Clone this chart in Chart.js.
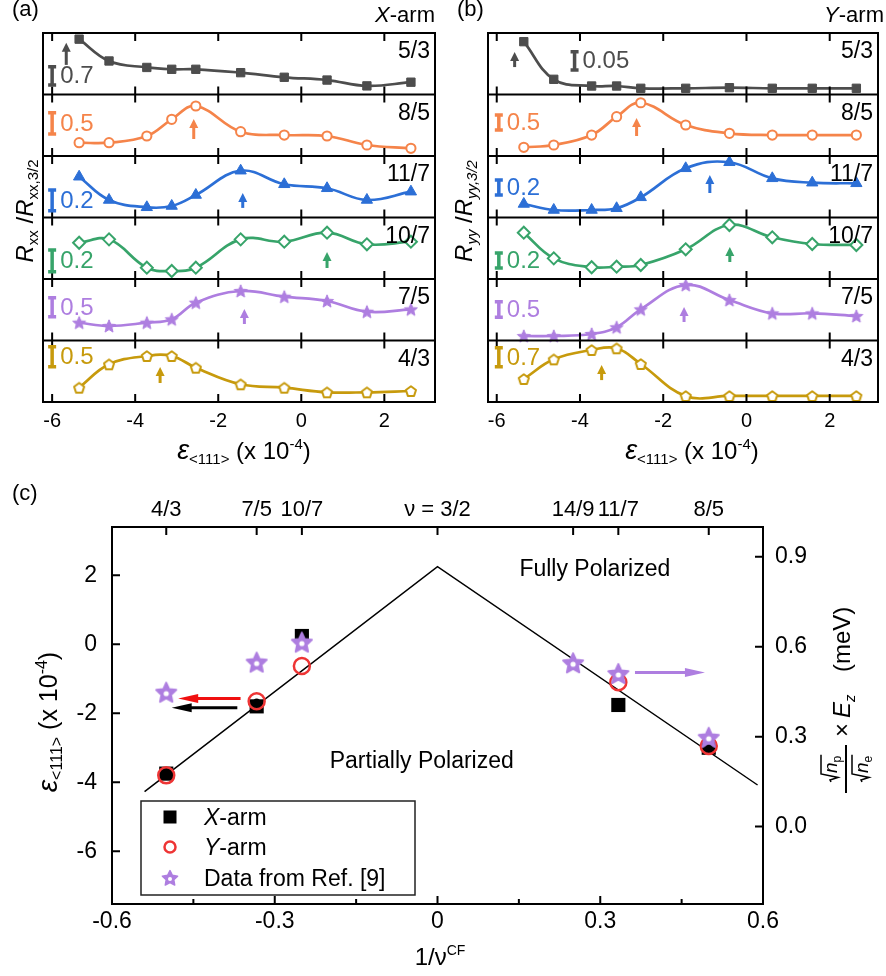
<!DOCTYPE html>
<html>
<head>
<meta charset="utf-8">
<title>strain vs filling</title>
<script src="https://cdn.jsdelivr.net/npm/chart.js@4.4.1/dist/chart.umd.min.js"></script>
<style>
  html, body { margin: 0; padding: 0; background: #fff; }
  #page { position: relative; width: 886px; height: 976px; overflow: hidden; }
  canvas { position: absolute; }
</style>
</head>
<body>
<div id="page">
  <canvas id="panelA" width="443" height="476" style="left:0;top:0"></canvas>
  <canvas id="panelB" width="443" height="476" style="left:443px;top:0"></canvas>
  <canvas id="panelC" width="886" height="500" style="left:0;top:476px"></canvas>
</div>
<script>
var FONT = "'Liberation Sans', Arial, Helvetica, sans-serif";
function font(size, style) { return (style || '') + ' ' + size + 'px ' + FONT; }

// ---- (a) / (b): six strips, one per filling factor
var fillings = ['5/3', '8/5', '11/7', '10/7', '7/5', '4/3'];
var strain = [-5.35, -4.63, -3.72, -3.12, -2.54, -1.46, -0.41, 0.62, 1.58, 2.64];
var strainTicks = [-6, -4, -2, 0, 2];

// X-arm, R_xx / R_xx,3/2 in units of one strip height
var xArm53 = [0.90, 0.545, 0.44, 0.41, 0.41, 0.355, 0.28, 0.235, 0.14, 0.20];
var xArm85 = [0.216, 0.216, 0.325, 0.597, 0.813, 0.395, 0.341, 0.325, 0.179, 0.125];
var xArm117 = [0.663, 0.285, 0.166, 0.187, 0.366, 0.761, 0.54, 0.475, 0.285, 0.42];
var xArm107 = [0.59, 0.645, 0.184, 0.13, 0.184, 0.645, 0.607, 0.753, 0.564, 0.607];
var xArm75 = [0.29, 0.236, 0.29, 0.345, 0.615, 0.805, 0.712, 0.642, 0.468, 0.507];
var xArm43 = [0.233, 0.613, 0.748, 0.748, 0.558, 0.288, 0.233, 0.158, 0.158, 0.179];

// Y-arm, R_yy / R_yy,3/2
var yArm53 = [0.859, 0.247, 0.138, 0.138, 0.101, 0.101, 0.111, 0.101, 0.101, 0.101];
var yArm85 = [0.141, 0.179, 0.341, 0.639, 0.866, 0.504, 0.369, 0.341, 0.341, 0.341];
var yArm117 = [0.22, 0.122, 0.122, 0.15, 0.328, 0.8, 0.898, 0.637, 0.566, 0.556];
var yArm107 = [0.753, 0.336, 0.191, 0.2, 0.228, 0.483, 0.878, 0.678, 0.569, 0.553];
var yArm75 = [0.073, 0.073, 0.106, 0.215, 0.507, 0.902, 0.658, 0.442, 0.442, 0.398];
var yArm43 = [0.374, 0.694, 0.846, 0.873, 0.618, 0.098, 0.098, 0.098, 0.098, 0.098];

// peak strain (little arrows) and scale bar values
var xArmPeak = [-5.66, -2.59, -1.41, 0.62, -1.37, -3.4];
var yArmPeak = [-5.57, -2.64, -0.88, -0.4, -1.5, -3.48];
var xArmBar = ['0.7', '0.5', '0.2', '0.2', '0.5', '0.5'];
var yArmBar = ['0.05', '0.5', '0.2', '0.2', '0.5', '0.7'];

var colors = ['#4d4d4d', '#f5844a', '#2c6fd6', '#37a46a', '#ae7ee0', '#c79a0c'];

// ---- (c): peak strain vs 1/nu^CF
var nuTop = [-0.5, -1 / 3, -0.25, 0, 0.25, 1 / 3, 0.5];
var nuTopLabels = ['4/3', '7/5', '10/7', 'ν = 3/2', '14/9', '11/7', '8/5'];
var xArmNu = [-0.5, -1 / 3, -0.25, 1 / 3, 0.5];
var xArmEps = [-3.75, -1.8, 0.24, -1.76, -3.0];
var yArmNu = [-0.5, -1 / 3, -0.25, 1 / 3, 0.5];
var yArmEps = [-3.8, -1.65, -0.63, -1.1, -2.95];
var refNu = [-0.5, -1 / 3, -0.25, 0.25, 1 / 3, 0.5];
var refEps = [-1.4, -0.53, 0.05, -0.55, -0.86, -2.71];
var dotNu = [-0.5, -1 / 3, 0.5];
var dotEps = [-3.78, -1.67, -3.02];
var boundaryNu = [-0.54, 0, 0.59];
var boundaryEps = [-4.27, 2.25, -4.08];
var nuTicks = [-0.6, -0.3, 0, 0.3, 0.6];
var nuMinor = [-0.45, -0.15, 0.15, 0.45];
var epsTicks = [2, 0, -2, -4, -6];
var ezTicks = [0, 0.3, 0.6, 0.9];

var red = '#ee3535', purple = '#ae7ee0';

function polyMarker(n, size, rOut, rIn, fill, stroke, lw, dot) {
  var c = document.createElement('canvas');
  c.width = c.height = size;
  var g = c.getContext('2d');
  var pts = rIn ? 2 * n : n;
  g.beginPath();
  for (var i = 0; i < pts; i++) {
    var ang = -Math.PI / 2 + i * 2 * Math.PI / pts;
    var r = rIn && i % 2 ? rIn : rOut;
    g.lineTo(size / 2 + r * Math.cos(ang), size / 2 + 0.6 + r * Math.sin(ang));
  }
  g.closePath();
  g.fillStyle = fill; g.fill();
  if (lw) { g.lineJoin = 'round'; g.lineWidth = lw; g.strokeStyle = stroke; g.stroke(); }
  if (dot) {
    g.fillStyle = '#fff';
    g.beginPath(); g.arc(size / 2, size / 2 + 1, dot, 0, 2 * Math.PI); g.fill();
  }
  return c;
}
var starA = polyMarker(5, 16, 6.8, 3, purple, purple, 1);
var pentA = polyMarker(5, 16, 5.3, 0, '#fff', colors[5], 2);
var starC = polyMarker(5, 26, 10.5, 5, purple, purple, 2, 2.6);
var starLeg = polyMarker(5, 20, 8, 4, purple, purple, 1.5, 2);

var markerStyle = [
  { style: 'rect', r: 5.9, open: false },
  { style: 'circle', r: 4.6, open: true },
  { style: 'triangle', r: 6.5, open: false },
  { style: 'rectRot', r: 6, open: true },
  { style: starA, r: 6, open: false },
  { style: pentA, r: 6, open: true }
];

function richText(ctx, runs, x, y, angle, align) {
  ctx.save();
  ctx.translate(x, y);
  if (angle) ctx.rotate(angle);
  var w = 0;
  runs.forEach(function (r) { ctx.font = r[1]; w += ctx.measureText(r[0]).width; });
  var cx = align === 'left' ? 0 : align === 'right' ? -w : -w / 2;
  ctx.textAlign = 'left'; ctx.textBaseline = 'alphabetic'; ctx.fillStyle = '#000';
  runs.forEach(function (r) {
    ctx.font = r[1];
    ctx.fillText(r[0], cx, r[2] || 0);
    cx += ctx.measureText(r[0]).width;
  });
  ctx.restore();
}

function epsRuns(big, main, sub) {
  return [['ε', font(big, 'italic')], ['<111>', font(sub), 5], [' (x 10', font(main)], ['-4', font(sub), -10], [')', font(main)]];
}

function upArrow(ctx, x, yBase, yTip, col) {
  var base = Math.max(yBase + 3, yTip + 15);
  ctx.strokeStyle = col; ctx.fillStyle = col; ctx.lineWidth = 3;
  ctx.beginPath(); ctx.moveTo(x, base); ctx.lineTo(x, yTip + 7); ctx.stroke();
  ctx.beginPath(); ctx.moveTo(x, yTip); ctx.lineTo(x - 4.5, yTip + 9); ctx.lineTo(x + 4.5, yTip + 9); ctx.closePath(); ctx.fill();
}

function hArrow(ctx, x1, x2, y, col) {
  var dir = x2 > x1 ? 1 : -1;
  ctx.strokeStyle = col; ctx.fillStyle = col; ctx.lineWidth = 3;
  ctx.beginPath(); ctx.moveTo(x1, y); ctx.lineTo(x2 - dir * 16, y); ctx.stroke();
  ctx.beginPath(); ctx.moveTo(x2, y); ctx.lineTo(x2 - dir * 20, y - 4.5); ctx.lineTo(x2 - dir * 20, y + 4.5); ctx.closePath(); ctx.fill();
}

function stripSets(series) {
  return series.map(function (vals, i) {
    var off = series.length - 1 - i;
    var m = markerStyle[i];
    return {
      label: fillings[i],
      data: strain.map(function (x, j) { return { x: x, y: off + vals[j] }; }),
      borderColor: colors[i], borderWidth: 2.7, tension: 0.4, fill: false,
      pointStyle: m.style, pointRadius: m.r, pointBorderWidth: m.open ? 2 : 1,
      pointBorderColor: colors[i], pointBackgroundColor: m.open ? '#fff' : colors[i]
    };
  });
}

function stripDeco(o) {
  return {
    id: 'stripDeco',
    afterDraw: function (chart) {
      var ctx = chart.ctx, a = chart.chartArea, sx = chart.scales.x, sy = chart.scales.y;
      var n = fillings.length;
      ctx.save();
      ctx.strokeStyle = '#000'; ctx.lineWidth = 2;
      ctx.beginPath();
      for (var k = 0; k <= n; k++) {
        var py = sy.getPixelForValue(k);
        if (k > 0 && k < n) { ctx.moveTo(a.left, py); ctx.lineTo(a.right, py); }
        strainTicks.forEach(function (t) {
          var px = sx.getPixelForValue(t);
          if (k < n) { ctx.moveTo(px, py); ctx.lineTo(px, py - 8); }
          if (k > 0) { ctx.moveTo(px, py); ctx.lineTo(px, py + 8); }
        });
      }
      ctx.stroke();
      ctx.strokeRect(a.left, a.top, a.right - a.left, a.bottom - a.top);

      for (var i = 0; i < n; i++) {
        var off = n - 1 - i, col = colors[i];
        ctx.fillStyle = '#000'; ctx.font = font(23); ctx.textAlign = 'right'; ctx.textBaseline = 'alphabetic';
        ctx.fillText(fillings[i], a.right - 5, sy.getPixelForValue(off + 1) + 25);

        var b = o.bars[i];
        var bx = sx.getPixelForValue(b[0]), y1 = sy.getPixelForValue(off + b[1]), y2 = sy.getPixelForValue(off + b[2]);
        ctx.strokeStyle = col; ctx.lineWidth = 3.5;
        ctx.beginPath();
        ctx.moveTo(bx, y1); ctx.lineTo(bx, y2);
        ctx.moveTo(bx - 4, y1); ctx.lineTo(bx + 4, y1);
        ctx.moveTo(bx - 4, y2); ctx.lineTo(bx + 4, y2);
        ctx.stroke();
        ctx.fillStyle = col; ctx.font = font(24); ctx.textAlign = 'left'; ctx.textBaseline = 'middle';
        ctx.fillText(o.barText[i], bx + 8, (y1 + y2) / 2 + 1);

        upArrow(ctx, sx.getPixelForValue(o.peak[i]), sy.getPixelForValue(off + o.arrow[i][0]),
          sy.getPixelForValue(off + o.arrow[i][1]), col);
      }
      o.titles(ctx, a);
      ctx.restore();
    }
  };
}

function stripChart(id, series, range, pad, deco) {
  return new Chart(document.getElementById(id), {
    type: 'line',
    data: { datasets: stripSets(series) },
    options: {
      responsive: false, animation: false, events: [],
      layout: { padding: pad },
      plugins: { legend: { display: false }, tooltip: { enabled: false } },
      scales: {
        x: {
          type: 'linear', min: range[0], max: range[1],
          afterBuildTicks: function (s) { s.ticks = strainTicks.map(function (v) { return { value: v }; }); },
          afterFit: function (s) { s.height = 74; },
          grid: { display: false, drawTicks: false }, border: { display: false },
          ticks: { font: { family: FONT, size: 20 }, color: '#000', padding: 7, maxRotation: 0, autoSkip: false,
            callback: function (v) { return String(v); } }
        },
        y: { min: 0, max: 6, display: false }
      }
    },
    plugins: [deco]
  });
}

stripChart('panelA', [xArm53, xArm85, xArm117, xArm107, xArm75, xArm43], [-6.22, 3.22],
  { left: 43, top: 33, right: 6, bottom: 0 },
  stripDeco({
    peak: xArmPeak, barText: xArmBar,
    arrow: [[0.53, 0.84], [0.325, 0.60], [0.236, 0.40], [0.228, 0.44], [0.35, 0.512], [0.358, 0.569]],
    bars: [[-6, 0.154, 0.452], [-6, 0.358, 0.704], [-6, 0.11, 0.447], [-6, 0.119, 0.472], [-6, 0.387, 0.696], [-6, 0.574, 0.899]],
    titles: function (ctx, a) {
      ctx.fillStyle = '#000'; ctx.textAlign = 'left'; ctx.textBaseline = 'alphabetic'; ctx.font = font(22);
      ctx.fillText('(a)', 12, 16);
      richText(ctx, [['X', font(22, 'italic')], ['-arm', font(22)]], 435, 22, 0, 'right');
      richText(ctx, [['R', font(24, 'italic')], ['xx', font(15), 5], [' /', font(24)], ['R', font(24, 'italic')], ['xx,3/2', font(15), 5]],
        33, 211, -Math.PI / 2, 'center');
      richText(ctx, epsRuns(27, 24, 15), 244, 459, 0, 'center');
    }
  }));

stripChart('panelB', [yArm53, yArm85, yArm117, yArm107, yArm75, yArm43], [-6.21, 3.16],
  { left: 45, top: 33, right: 3, bottom: 0 },
  stripDeco({
    peak: yArmPeak, barText: yArmBar,
    arrow: [[0.51, 0.69], [0.374, 0.618], [0.447, 0.69], [0.34, 0.52], [0.38, 0.545], [0.44, 0.60]],
    bars: [[-4.13, 0.398, 0.696], [-5.95, 0.423, 0.667], [-5.95, 0.366, 0.61], [-5.95, 0.179, 0.423], [-5.95, 0.377, 0.631], [-5.95, 0.574, 0.883]],
    titles: function (ctx, a) {
      ctx.fillStyle = '#000'; ctx.textAlign = 'left'; ctx.textBaseline = 'alphabetic'; ctx.font = font(22);
      ctx.fillText('(b)', 14, 16);
      richText(ctx, [['Y', font(22, 'italic')], ['-arm', font(22)]], 441, 22, 0, 'right');
      richText(ctx, [['R', font(24, 'italic')], ['yy', font(15, 'italic'), 5], [' /', font(24)], ['R', font(24, 'italic')], ['yy,3/2', font(15, 'italic'), 5]],
        29, 211, -Math.PI / 2, 'center');
      richText(ctx, epsRuns(27, 24, 15), 249, 459, 0, 'center');
    }
  }));

// ---- (c)
function pts(xs, ys) { return xs.map(function (x, i) { return { x: x, y: ys[i] }; }); }
function fixedTicks(list) { return function (s) { s.ticks = list.map(function (v) { return { value: v }; }); }; }
var tickFont = { family: FONT, size: 23 };

function radicand(ctx, u, vBase, letter, sub) {
  ctx.font = font(19, 'italic');
  var wl = ctx.measureText(letter).width;
  ctx.font = font(12);
  var ws = ctx.measureText(sub).width;
  var top = vBase - 16;
  ctx.lineWidth = 1.5; ctx.strokeStyle = '#000';
  ctx.beginPath();
  ctx.moveTo(u, vBase - 6); ctx.lineTo(u + 2, vBase - 7); ctx.lineTo(u + 4.5, vBase + 1);
  ctx.lineTo(u + 8, top); ctx.lineTo(u + 10 + wl + ws, top);
  ctx.stroke();
  ctx.fillStyle = '#000'; ctx.textAlign = 'left'; ctx.textBaseline = 'alphabetic';
  ctx.font = font(19, 'italic'); ctx.fillText(letter, u + 9, vBase);
  ctx.font = font(12); ctx.fillText(sub, u + 9 + wl, vBase + 4);
}

var decoC = {
  id: 'decoC',
  afterDraw: function (chart) {
    var ctx = chart.ctx, a = chart.chartArea, sx = chart.scales.x, sy = chart.scales.y, sr = chart.scales.yR;
    ctx.save();
    ctx.strokeStyle = '#000'; ctx.lineWidth = 2;
    ctx.strokeRect(a.left, a.top, a.right - a.left, a.bottom - a.top);
    ctx.beginPath();
    nuTop.forEach(function (v) { var p = sx.getPixelForValue(v); ctx.moveTo(p, a.top); ctx.lineTo(p, a.top + 8); });
    nuTicks.forEach(function (v) { var p = sx.getPixelForValue(v); ctx.moveTo(p, a.bottom); ctx.lineTo(p, a.bottom - 8); });
    nuMinor.forEach(function (v) { var p = sx.getPixelForValue(v); ctx.moveTo(p, a.bottom); ctx.lineTo(p, a.bottom - 5); });
    epsTicks.forEach(function (v) { var p = sy.getPixelForValue(v); ctx.moveTo(a.left, p); ctx.lineTo(a.left + 8, p); });
    ezTicks.forEach(function (v) { var p = sr.getPixelForValue(v); ctx.moveTo(a.right, p); ctx.lineTo(a.right - 8, p); });
    ctx.stroke();

    // region labels
    ctx.fillStyle = '#000'; ctx.font = font(23); ctx.textAlign = 'center'; ctx.textBaseline = 'middle';
    ctx.fillText('Fully Polarized', sx.getPixelForValue(0.29), sy.getPixelForValue(2.15));
    ctx.fillText('Partially Polarized', sx.getPixelForValue(-0.029), sy.getPixelForValue(-3.4));

    // axis arrows
    hArrow(ctx, sx.getPixelForValue(-0.363), sx.getPixelForValue(-0.478), sy.getPixelForValue(-1.57), '#f01010');
    hArrow(ctx, sx.getPixelForValue(-0.369), sx.getPixelForValue(-0.49), sy.getPixelForValue(-1.84), '#000');
    hArrow(ctx, sx.getPixelForValue(0.364), sx.getPixelForValue(0.493), sy.getPixelForValue(-0.82), purple);

    // legend
    var lx = 141, ly = 325;
    ctx.fillStyle = '#fff'; ctx.fillRect(lx, ly, 274, 94);
    ctx.strokeStyle = '#222'; ctx.lineWidth = 1.5; ctx.strokeRect(lx, ly, 274, 94);
    ctx.fillStyle = '#000'; ctx.fillRect(170 - 6.5, 341 - 6.5, 13, 13);
    ctx.strokeStyle = red; ctx.lineWidth = 2.5;
    ctx.beginPath(); ctx.arc(170, 371, 5.5, 0, 2 * Math.PI); ctx.stroke();
    ctx.drawImage(starLeg, 170 - 10, 402 - 10);
    richText(ctx, [['X', font(23, 'italic')], ['-arm', font(23)]], 204, 349, 0, 'left');
    richText(ctx, [['Y', font(23, 'italic')], ['-arm', font(23)]], 204, 379, 0, 'left');
    richText(ctx, [['Data from Ref. [9]', font(23)]], 204, 410, 0, 'left');

    // titles
    ctx.fillStyle = '#000'; ctx.textAlign = 'left'; ctx.textBaseline = 'alphabetic'; ctx.font = font(22);
    ctx.fillText('(c)', 12, 24);
    richText(ctx, epsRuns(28, 25, 16), 57, 246, -Math.PI / 2, 'center');
    richText(ctx, [['1/ν', font(24)], ['CF', font(14), -10]], 440, 489, 0, 'center');

    // right title: sqrt(n_p)/sqrt(n_e) x E_z (meV)
    ctx.save();
    ctx.translate(846, 224);
    ctx.rotate(-Math.PI / 2);
    ctx.strokeStyle = '#000'; ctx.lineWidth = 2;
    ctx.beginPath(); ctx.moveTo(-93, 0); ctx.lineTo(-45, 0); ctx.stroke();
    radicand(ctx, -82, -9, 'n', 'p');
    radicand(ctx, -82, 22, 'n', 'e');
    richText(ctx, [['×', font(24)]], -37, 4, 0, 'left');
    richText(ctx, [['E', font(24, 'italic')], ['z', font(15, 'italic'), 5]], -18, 4, 0, 'left');
    richText(ctx, [['(meV)', font(24)]], 28, 4, 0, 'left');
    ctx.restore();

    ctx.restore();
  }
};

new Chart(document.getElementById('panelC'), {
  type: 'scatter',
  data: {
    datasets: [
      { label: 'dots', data: pts(dotNu, dotEps), pointRadius: 3.5, pointBackgroundColor: '#000', pointBorderWidth: 0, order: 1 },
      { label: 'Data from Ref. [9]', data: pts(refNu, refEps), pointStyle: starC, pointRadius: 10, order: 2 },
      { label: 'Y-arm', data: pts(yArmNu, yArmEps), pointStyle: 'circle', pointRadius: 8, pointBorderWidth: 2.5,
        pointBorderColor: red, pointBackgroundColor: 'rgba(255,255,255,0)', order: 3 },
      { label: 'X-arm', data: pts(xArmNu, xArmEps), pointStyle: 'rect', pointRadius: 10, pointBorderWidth: 0,
        pointBackgroundColor: '#000', pointBorderColor: '#000', order: 4 },
      { label: 'boundary', data: pts(boundaryNu, boundaryEps), showLine: true, borderColor: '#000', borderWidth: 1.5,
        pointRadius: 0, order: 5 }
    ]
  },
  options: {
    responsive: false, animation: false, events: [],
    layout: { padding: 0 },
    plugins: { legend: { display: false }, tooltip: { enabled: false } },
    scales: {
      x: {
        type: 'linear', position: 'bottom', min: -0.6, max: 0.6,
        afterBuildTicks: fixedTicks(nuTicks), afterFit: function (s) { s.height = 72; },
        grid: { display: false, drawTicks: false }, border: { display: false },
        ticks: { font: tickFont, color: '#000', padding: 4, maxRotation: 0, autoSkip: false,
          callback: function (v) { return String(Math.round(v * 10) / 10); } }
      },
      xTop: {
        type: 'linear', axis: 'x', position: 'top', min: -0.6, max: 0.6,
        afterBuildTicks: fixedTicks(nuTop), afterFit: function (s) { s.height = 51; },
        grid: { display: false, drawTicks: false }, border: { display: false },
        ticks: { font: { family: FONT, size: 22 }, color: '#000', padding: 4, maxRotation: 0, autoSkip: false,
          callback: function (v, i) { return nuTopLabels[i]; } }
      },
      y: {
        type: 'linear', position: 'left', min: -7.53, max: 3.4,
        afterBuildTicks: fixedTicks(epsTicks), afterFit: function (s) { s.width = 112; },
        grid: { display: false, drawTicks: false }, border: { display: false },
        ticks: { font: tickFont, color: '#000', padding: 15, autoSkip: false,
          callback: function (v) { return String(v); } }
      },
      yR: {
        type: 'linear', axis: 'y', position: 'right', min: -0.258, max: 0.999,
        afterBuildTicks: fixedTicks(ezTicks), afterFit: function (s) { s.width = 123; },
        grid: { display: false, drawTicks: false }, border: { display: false },
        ticks: { font: tickFont, color: '#000', padding: 12, autoSkip: false,
          callback: function (v) { return v.toFixed(1); } }
      }
    }
  },
  plugins: [decoC]
});
</script>
</body>
</html>
